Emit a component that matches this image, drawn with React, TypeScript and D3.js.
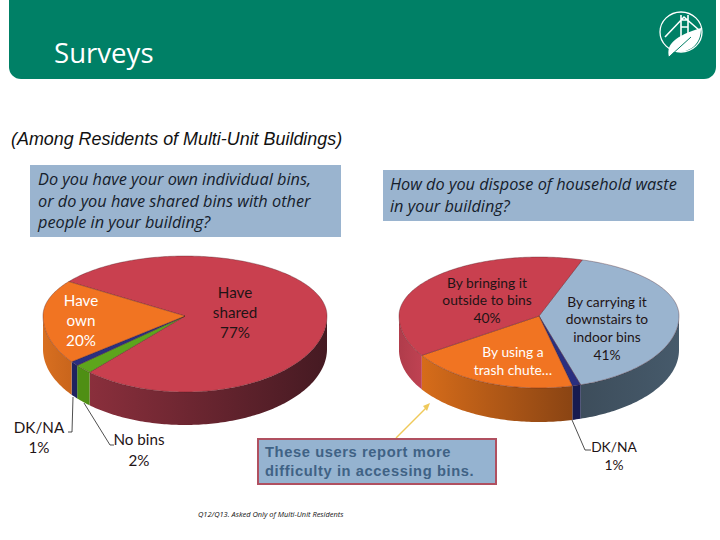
import React from "react";
import * as d3 from "d3";

const binLabels = ["Have shared", "No bins", "DK/NA", "Have own"];
const binValues = [77, 2, 1, 20];
const binColors = ["#c9404f", "#5da51c", "#2a2f80", "#f17422"];
const binSides = [["#8a2f3c", "#451a22"], ["#4f8f14", "#4f8f14"], ["#1e2360", "#1e2360"], ["#d86f20", "#c9651c"]];

const wasteLabels = ["Carrying downstairs", "DK/NA", "Trash chute", "Bringing outside"];
const wasteValues = [41, 1, 20, 40];
const wasteColors = ["#9ab4cf", "#2a2f80", "#f17422", "#c9404f"];
const wasteSides = [["#3d4d5b", "#465a6b"], ["#171b50", "#171b50"], ["#d66c1a", "#8a4413"], ["#b03c4b", "#bf4252"]];

type Geo = { cx: number; cy: number; rx: number; ryT: number; ryB: number; depth: number; start: number };
const binGeo: Geo = { cx: 185, cy: 316, rx: 142, ryT: 60, ryB: 76, depth: 33, start: -55 };
const wasteGeo: Geo = { cx: 539, cy: 316, rx: 140, ryT: 59, ryB: 72, depth: 34, start: 18 };

const rad = Math.PI / 180;
const rimPoint = (g: Geo, t: number, dy = 0): [number, number] => {
  const c = Math.cos(t);
  return [g.cx + g.rx * Math.sin(t), g.cy - (c > 0 ? g.ryT : g.ryB) * c + dy];
};
const sample = (a: number, b: number) => {
  const n = Math.max(2, Math.ceil(Math.abs(b - a) / (1 * rad)));
  return d3.range(n + 1).map((i) => a + ((b - a) * i) / n);
};
const line = d3.line();

function Pie3D({ id, g, values, colors, sides }: { id: string; g: Geo; values: number[]; colors: string[]; sides: string[][] }) {
  const arcs = d3.pie<number>().sort(null).startAngle(g.start * rad).endAngle((g.start + 360) * rad)(values);
  const walls = arcs.map((a, i) => {
    // the visible wall is the front half of the rim, wherever cos(t) < 0
    const ranges: [number, number][] = [];
    for (let k = -1; k <= 1; k++) {
      const lo = Math.max(a.startAngle, Math.PI / 2 + 2 * Math.PI * k);
      const hi = Math.min(a.endAngle, (3 * Math.PI) / 2 + 2 * Math.PI * k);
      if (hi > lo) ranges.push([lo, hi]);
    }
    return ranges.map(([lo, hi], j) => {
      const ts = sample(lo, hi);
      const d = line([...ts.map((t) => rimPoint(g, t)), ...ts.slice().reverse().map((t) => rimPoint(g, t, g.depth))]) + "Z";
      const x0 = rimPoint(g, lo)[0];
      const x1 = rimPoint(g, hi)[0];
      return { key: `${i}-${j}`, d, gid: `${id}-w${i}-${j}`, x0, x1, c: sides[i] };
    });
  }).flat();
  return (
    <g>
      <defs>
        {walls.map((w) => (
          <linearGradient key={w.key} id={w.gid} gradientUnits="userSpaceOnUse" x1={Math.min(w.x0, w.x1)} x2={Math.max(w.x0, w.x1)} y1={0} y2={0}>
            <stop offset="0" stopColor={w.c[0]} />
            <stop offset="1" stopColor={w.c[1]} />
          </linearGradient>
        ))}
      </defs>
      {walls.map((w) => (
        <path key={w.key} d={w.d} fill={`url(#${w.gid})`} />
      ))}
      {arcs.map((a, i) => {
        const pts = sample(a.startAngle, a.endAngle).map((t) => rimPoint(g, t));
        return <path key={i} d={line([[g.cx, g.cy], ...pts]) + "Z"} fill={colors[i]} stroke="#4a1c22" strokeWidth={0.5} strokeOpacity={0.7} />;
      })}
    </g>
  );
}

const pieFont = "Lato, 'Open Sans', sans-serif";
function Lines({ x, ys, fill = "#1f1416", size = 15.2 }: { x: number; ys: [string, number][]; fill?: string; size?: number }) {
  return (
    <text fontFamily={pieFont} fontWeight={400} fontSize={size} fill={fill} textAnchor="middle">
      {ys.map(([s, y]) => (
        <tspan key={s} x={x} y={y}>{s}</tspan>
      ))}
    </text>
  );
}

const questionFont = "'Open Sans', 'Noto Sans', sans-serif";

export default function App() {
  return (
    <svg width={720} height={540} viewBox="0 0 720 540" style={{ position: "absolute", left: 0, top: 0, background: "#fff" }}>
      <path d="M9 0H716V67A12 12 0 0 1 704 79H21A12 12 0 0 1 9 67Z" fill="#008066" />
      <text x={54} y={63} fontFamily="'Open Sans', sans-serif" fontSize={27.6} fill="#fff">Surveys</text>
      <g fill="none" stroke="#fff">
        <ellipse cx={681} cy={32} rx={21} ry={20} strokeWidth={1.3} />
        <path d="M665 37L684 17L699 30M681 15V42M688 15V38M681 20H688M681 27H688" strokeWidth={1.6} />
      </g>
      <path d="M669 57C666 44 675 36 701 28C701 44 691 53 674 52Z" fill="#fff" />
      <path d="M669 57L691 37" stroke="#008066" strokeWidth={1} />

      <text x={11} y={145} fontFamily="'Liberation Sans', Arial, sans-serif" fontStyle="italic" fontSize={17.9} fill="#111">(Among Residents of Multi-Unit Buildings)</text>

      <rect x={30} y={165} width={311} height={72} fill="#9ab4cf" />
      <text fontFamily={questionFont} fontStyle="italic" fontSize={16.3} fill="#15202b">
        <tspan x={38} y={185}>Do you have your own individual bins,</tspan>
        <tspan x={38} y={207}>or do you have shared bins with other</tspan>
        <tspan x={38} y={228}>people in your building?</tspan>
      </text>
      <rect x={383} y={170} width={311} height={51} fill="#9ab4cf" />
      <text fontFamily={questionFont} fontStyle="italic" fontSize={16.3} fill="#15202b">
        <tspan x={390} y={190}>How do you dispose of household waste</tspan>
        <tspan x={390} y={212}>in your building?</tspan>
      </text>

      <Pie3D id="bins" g={binGeo} values={binValues} colors={binColors} sides={binSides} />
      <Pie3D id="waste" g={wasteGeo} values={wasteValues} colors={wasteColors} sides={wasteSides} />

      <Lines x={81} ys={[["Have", 306], ["own", 326], ["20%", 346]]} fill="#fff" />
      <Lines x={235} ys={[["Have", 298], ["shared", 318], ["77%", 338]]} />
      <Lines x={487} ys={[["By bringing it", 288], ["outside to bins", 305], ["40%", 323]]} size={13.8} />
      <Lines x={607} ys={[["By carrying it", 307], ["downstairs to", 324], ["indoor bins", 342], ["41%", 360]]} size={13.8} />
      <Lines x={513} ys={[["By using a", 357], ["trash chute…", 375]]} fill="#fff" size={13.8} />

      <path d="M73 397L72 432H68M84 403L110 445H114M572 420L585 450H591" fill="none" stroke="#222" strokeWidth={0.8} />
      <Lines x={39} ys={[["DK/NA", 433], ["1%", 453]]} />
      <Lines x={139} ys={[["No bins", 445], ["2%", 466]]} />
      <Lines x={614} ys={[["DK/NA", 452], ["1%", 470]]} size={13.8} />

      <line x1={396} y1={438} x2={427} y2={407} stroke="#efc95a" strokeWidth={1.5} />
      <path d="M430 403L423 406L427 411Z" fill="#efc95a" />
      <rect x={258} y={439} width={238} height={45} fill="#95b3d0" stroke="#b05060" strokeWidth={2} />
      <text fontFamily="'Liberation Sans', Arial, sans-serif" fontWeight="bold" fontSize={14.7} fill="#3f6285" letterSpacing={0.6}>
        <tspan x={265} y={457}>These users report more</tspan>
        <tspan x={265} y={476}>difficulty in accessing bins.</tspan>
      </text>

      <text x={198} y={517} fontFamily={questionFont} fontStyle="italic" fontSize={7.45} fill="#111">Q12/Q13. Asked Only of Multi-Unit Residents</text>
    </svg>
  );
}
